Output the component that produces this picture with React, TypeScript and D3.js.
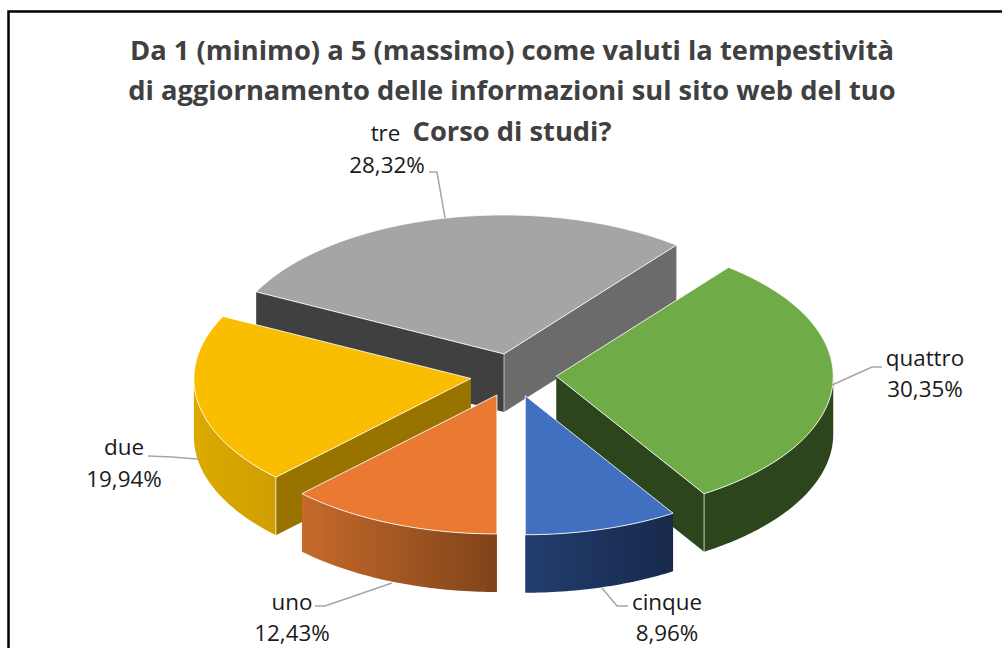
import React from "react";
import * as d3 from "d3";

const categories = ["uno", "due", "tre", "quattro", "cinque"];
const shares = [12.43, 19.94, 28.32, 30.35, 8.96];
const topColors = ["#ea7a32", "#fbbd00", "#a5a5a5", "#6fac47", "#4270c0"];
const cutColorsStart = ["#7f4319", "#997300", "#404040", "#2c451c", "#223d6e"];
const cutColorsEnd = ["#7f4319", "#997300", "#6b6b6b", "#2c451c", "#18294c"];
const wallLeft = ["#c66a2b", "#dca900", "#8a8a8a", "#2c451c", "#223d6e"];
const wallRight = ["#7f4319", "#cf9f00", "#6b6b6b", "#2c451c", "#18294c"];
const titleLines = [
  "Da 1 (minimo) a 5 (massimo) come valuti la tempestività",
  "di aggiornamento delle informazioni sul sito web del tuo",
  "Corso di studi?",
];
const labelPlacement = [
  { x: 292, y1: 610, y2: 641, leader: [[315, 606], [325, 606], [392, 583]] },
  { x: 124, y1: 455, y2: 487, leader: [[148, 456], [172, 457], [198, 459]] },
  { x: 387, y1: 141, y2: 173, leader: [[429, 172], [437, 172], [445, 218]] },
  { x: 925, y1: 366, y2: 397, leader: [[882, 367], [872, 367], [832, 385]] },
  { x: 667, y1: 610, y2: 641, leader: [[628, 606], [617, 606], [602, 588]] },
];

const CX = 513.3, CY = 375, RX = 277, RY = 139, DEPTH = 58, EXPLODE = 43;
const itFormat = d3.formatLocale({ decimal: ",", thousands: ".", grouping: [3], currency: ["", "€"] }).format(".2%");
const line = d3.line();
const FONT = "'Open Sans', sans-serif";

const pieGen = d3.pie<number>().sort(null).startAngle(Math.PI).endAngle(3 * Math.PI);
const arcs = pieGen(shares);
const xS = d3.scaleLinear().domain([-1, 1]).range([-RX, RX]);
const yS = d3.scaleLinear().domain([-1, 1]).range([-RY, RY]);

// angular ranges (clockwise from 12 o'clock) in which the rim faces the viewer
const frontRanges = [
  [Math.PI / 2, 1.5 * Math.PI],
  [2.5 * Math.PI, 3.5 * Math.PI],
];

export default function App() {
  const slices = arcs.map((a, i) => {
    const mid = (a.startAngle + a.endAngle) / 2;
    const ax = CX + (EXPLODE / RX) * xS(Math.sin(mid));
    const ay = CY + (EXPLODE / RX) * yS(-Math.cos(mid));
    const pt = (t: number, dz = 0): [number, number] => [ax + xS(Math.sin(t)), ay + yS(-Math.cos(t)) + dz];
    const samples = (t0: number, t1: number) => {
      const n = Math.max(2, Math.ceil((t1 - t0) * 60));
      return d3.range(n + 1).map((k) => t0 + ((t1 - t0) * k) / n);
    };
    const walls = frontRanges
      .map(([lo, hi]) => [Math.max(a.startAngle, lo), Math.min(a.endAngle, hi)])
      .filter(([w0, w1]) => w1 > w0);
    return { a, i, ax, ay, pt, samples, walls };
  });
  const drawOrder = [2, 1, 3, 0, 4];
  return (
    <svg width={1002} height={648} style={{ position: "fixed", left: 0, top: 0, background: "#fff" }}>
      <defs>
        {slices.map(({ i, pt, walls }) => {
          if (!walls.length) return null;
          const xs = walls.flatMap(([w0, w1]) => [pt(w0)[0], pt(w1)[0]]);
          return (
            <linearGradient key={i} id={`wall${i}`} gradientUnits="userSpaceOnUse" x1={d3.min(xs)} x2={d3.max(xs)} y1={0} y2={0}>
              <stop offset="0" stopColor={wallLeft[i]} />
              <stop offset="1" stopColor={wallRight[i]} />
            </linearGradient>
          );
        })}
      </defs>
      <path d="M1002,11.5H8.5V648" fill="none" stroke="#000" strokeWidth={2.5} />
      {drawOrder.map((idx) => {
        const { a, i, ax, ay, pt, samples, walls } = slices[idx];
        const top = samples(a.startAngle, a.endAngle).map((t) => pt(t));
        const t0 = a.startAngle, t1 = a.endAngle;
        const faces: React.ReactNode[] = [];
        const quad = (t: number, fill: string, key: string) => {
          const e = pt(t), eb = pt(t, DEPTH);
          return <path key={key} d={line([[ax, ay], e, eb, [ax, ay + DEPTH]])! + "Z"} fill={fill} />;
        };
        const startShows = Math.sin(t0) < -1e-6;
        const endShows = Math.sin(t1) > 1e-6;
        if (startShows) faces.push(quad(t0, cutColorsStart[i], "s"));
        if (endShows) faces.push(quad(t1, cutColorsEnd[i], "e"));
        const edgeAngles = [
          ...(startShows && Math.cos(t0) < 0 ? [t0] : []),
          ...(endShows && Math.cos(t1) < 0 ? [t1] : []),
        ];
        return (
          <g key={i}>
            {faces}
            {walls.map(([w0, w1], k) => {
              const ts = samples(w0, w1);
              const upper = ts.map((t) => pt(t));
              const lower = ts.slice().reverse().map((t) => pt(t, DEPTH));
              return <path key={k} d={line([...upper, ...lower])! + "Z"} fill={`url(#wall${i})`} />;
            })}
            <path d={line([[ax, ay], ...top])! + "Z"} fill={topColors[i]} stroke="#fff" strokeWidth={1} strokeOpacity={0.85} strokeLinejoin="round" />
            {edgeAngles.map((t) => (
              <path key={t} d={line([pt(t), pt(t, DEPTH)])!} stroke="#fff" strokeOpacity={0.7} strokeWidth={1} />
            ))}
            {startShows && endShows ? (
              <path d={line([[ax, ay], [ax, ay + DEPTH]])!} stroke="#fff" strokeOpacity={0.6} strokeWidth={1} />
            ) : null}
          </g>
        );
      })}
      {labelPlacement.map((p, i) => (
        <path key={i} d={line(p.leader as [number, number][])!} fill="none" stroke="#a6a6a6" strokeWidth={1.5} />
      ))}
      <g fontFamily={FONT} fontWeight={700} fontSize={27.3} fill="#404040" textAnchor="middle">
        {titleLines.map((t, i) => (
          <text key={i} x={512} y={[60, 100, 141][i]}>{t}</text>
        ))}
      </g>
      <g fontFamily={FONT} fontSize={22.4} fill="#1a1a1a" textAnchor="middle">
        {categories.map((c, i) => (
          <g key={c}>
            <text x={i === 2 ? 385.5 : labelPlacement[i].x} y={labelPlacement[i].y1}>{c}</text>
            <text x={labelPlacement[i].x} y={labelPlacement[i].y2}>{itFormat(shares[i] / 100)}</text>
          </g>
        ))}
      </g>
    </svg>
  );
}
